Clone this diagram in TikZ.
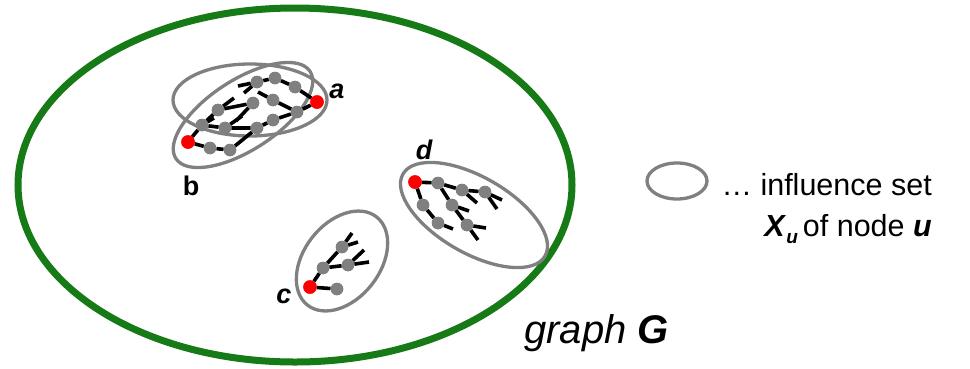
\documentclass[tikz,border=0pt]{standalone}
\usepackage{fontspec}
\setmainfont{Liberation Sans}
\definecolor{ggreen}{RGB}{22,122,22}
\definecolor{setgray}{RGB}{128,128,128}
\definecolor{dotgray}{RGB}{128,128,128}
\definecolor{dotred}{RGB}{250,0,0}
\begin{document}
\begin{tikzpicture}[x=1pt,y=-1pt,
  gdot/.style={circle,fill=dotgray,inner sep=0pt,minimum size=12.5pt},
  rdot/.style={circle,fill=dotred,inner sep=0pt,minimum size=13.5pt},
  edge/.style={line width=3.6pt,black},
  infl/.style={draw=setgray,line width=3.3pt},
  graphline/.style={draw=ggreen,line width=7pt},
  lbl/.style={font=\fontsize{27}{29}\selectfont\bfseries\itshape,inner sep=0pt},
  lblup/.style={font=\fontsize{27}{29}\selectfont\bfseries,inner sep=0pt},
  legend/.style={font=\fontsize{30.5}{32}\selectfont,inner sep=0pt}]
\useasboundingbox (0,0) rectangle (970,368);

% graph G
\draw[graphline] (295,185) ellipse [x radius=277pt, y radius=177pt];

% influence sets
\draw[infl] (250,100) ellipse [x radius=77pt, y radius=36pt];
\draw[infl, rotate around={33:(243,115)}] (243,115) ellipse [x radius=80pt, y radius=35pt];
\draw[infl, rotate around={52:(342,261)}] (342,261) ellipse [x radius=56pt, y radius=38pt];
\draw[infl, rotate around={-30:(474,215)}] (474,215) ellipse [x radius=82pt, y radius=38pt];

% ---- cluster a / b ----
\node[rdot] (b) at (188,142) {};
\node[rdot] (a) at (317,102) {};
\node[gdot] (g1) at (210,148) {};
\node[gdot] (g2) at (230,150) {};
\node[gdot] (g3) at (202,125) {};
\node[gdot] (g4) at (218,110) {};
\node[gdot] (g5) at (225,128) {};
\node[gdot] (g6) at (257,82) {};
\node[gdot] (g7) at (275,78) {};
\node[gdot] (g8) at (295,87) {};
\node[gdot] (g9) at (253,103) {};
\node[gdot] (g10) at (273,100) {};
\node[gdot] (g11) at (297,112) {};
\node[gdot] (g12) at (273,120) {};
\node[gdot] (g13) at (257,128) {};
\coordinate (s1) at (234,98);
\coordinate (s2) at (242,116);
\coordinate (s3) at (238,86);
\coordinate (s4) at (244,93);
\coordinate (s5) at (258,92);
\coordinate (s6) at (236,121);
\coordinate (s7) at (214,118);
\draw[edge] (b) -- (g1) -- (g2) -- (g13);
\draw[edge] (b) -- (g3) -- (g4) -- (s1);
\draw[edge] (g3) -- (g5) -- (g13) -- (g12) -- (g11) -- (a);
\draw[edge] (g5) -- (s2);
\draw[edge] (g4) -- (g9);
\draw[edge] (g6) -- (s3);
\draw[edge] (g6) -- (s4);
\draw[edge] (g6) -- (g7) -- (g8) -- (a);
\draw[edge] (g10) -- (s5);
\draw[edge] (g10) -- (g11);
\draw[edge] (g9) -- (s6);
\draw[edge] (g3) -- (s7);
\foreach \n in {g1,g2,g3,g4,g5,g6,g7,g8,g9,g10,g11,g12,g13} \node[gdot] at (\n) {};
\node[rdot] at (a) {};
\node[rdot] at (b) {};

% ---- cluster c ----
\node[rdot] (c) at (310,287) {};
\node[gdot] (c1) at (337,289) {};
\node[gdot] (c2) at (323,268) {};
\node[gdot] (c3) at (342,247) {};
\node[gdot] (c4) at (348,265) {};
\coordinate (cs1) at (352,233);
\coordinate (cs2) at (358,242);
\coordinate (cs3) at (364,250);
\coordinate (cs4) at (369,262);
\draw[edge] (c) -- (c1);
\draw[edge] (c) -- (c2) -- (c3) -- (cs1);
\draw[edge] (c3) -- (cs2);
\draw[edge] (c2) -- (c4) -- (cs3);
\draw[edge] (c4) -- (cs4);
\foreach \n in {c1,c2,c3,c4} \node[gdot] at (\n) {};
\node[rdot] at (c) {};

% ---- cluster d ----
\node[rdot] (d) at (415,182) {};
\node[gdot] (d1) at (438,183) {};
\node[gdot] (d2) at (462,190) {};
\node[gdot] (d3) at (485,192) {};
\node[gdot] (d4) at (423,205) {};
\node[gdot] (d5) at (438,223) {};
\node[gdot] (d6) at (452,205) {};
\node[gdot] (d7) at (467,225) {};
\coordinate (ds1) at (453,229);
\coordinate (ds2) at (469,211);
\coordinate (ds3) at (486,228);
\coordinate (ds4) at (478,240);
\coordinate (ds5) at (477,203);
\coordinate (ds6) at (502,200);
\coordinate (ds7) at (497,209);
\draw[edge] (d) -- (d1) -- (d2) -- (d3) -- (ds6);
\draw[edge] (d3) -- (ds7);
\draw[edge] (d2) -- (ds5);
\draw[edge] (d) -- (d4) -- (d5) -- (ds1);
\draw[edge] (d1) -- (d6) -- (d7) -- (ds3);
\draw[edge] (d6) -- (ds2);
\draw[edge] (d7) -- (ds4);
\foreach \n in {d1,d2,d3,d4,d5,d6,d7} \node[gdot] at (\n) {};
\node[rdot] at (d) {};

% labels
\node[lbl] (la) at (337,91) {a};
\node[lblup] (lb) at (191,186) {b};
\node[lbl] (lc) at (284,296) {c};
\node[lbl] (ld) at (424,150) {d};

% legend
\draw[infl] (677,181) ellipse [x radius=30pt, y radius=18pt];
\node[legend, anchor=east] (l1) at (932,185) {… influence set};
\node[legend, anchor=east] (l2) at (932,229) {\textbf{\textit{X}}\raisebox{-7pt}{\fontsize{19}{20}\selectfont\textbf{\textit{u}}}\,of node \textbf{\textit{u}}};

% graph label
\node[font=\fontsize{40}{42}\selectfont\itshape, anchor=base west, inner sep=0pt] (gl) at (524,343) {graph \textbf{G}};
\end{tikzpicture}
\end{document}
